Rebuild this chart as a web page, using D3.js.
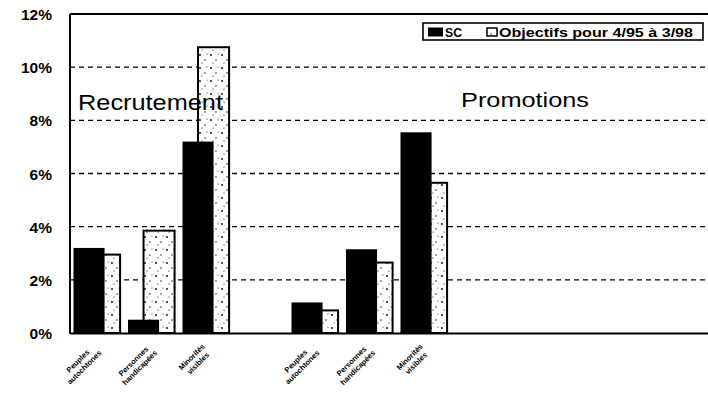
<!DOCTYPE html>
<html>
<head>
<meta charset="utf-8">
<script src="https://cdn.jsdelivr.net/npm/d3@7"></script>
<style>
  html, body { margin: 0; padding: 0; background: #fff; }
  #wrap { position: relative; width: 708px; height: 403px; }
  svg { display: block; font-family: "Liberation Sans", Arial, sans-serif; }
  .xlab { position: absolute; left: 0; top: 0; font: bold 7.5px "Liberation Sans", Arial, sans-serif;
          line-height: 9px; text-align: center; white-space: nowrap; transform-origin: 100% 0; }
</style>
</head>
<body>
<div id="wrap"><svg id="chart" width="708" height="403"></svg></div>
<script>
// Category slots along the x axis (blank slots keep the spacing between groups)
const slots = ["r0", "r1", "r2", "gap", "p0", "p1", "p2", "e0", "e1", "e2", "e3", "e4"];
const categories = ["Peuples autochtones", "Personnes handicapées", "Minorités visibles"];
const groupTitles = ["Recrutement", "Promotions"];
const recrutementSC = [3.2, 0.5, 7.2];
const recrutementObjectifs = [2.95, 3.85, 10.75];
const promotionsSC = [1.15, 3.15, 7.55];
const promotionsObjectifs = [0.85, 2.65, 5.65];
const yTicks = [0, 2, 4, 6, 8, 10, 12];
const legendLabels = ["SC", "Objectifs pour 4/95 à 3/98"];

const svg = d3.select("#chart");
const W = 708, H = 403;
const plotLeft = 70, plotTop = 14, plotBottom = 333, plotRight = 708;

const x = d3.scaleBand().domain(slots).range([plotLeft, plotLeft + 54.5 * slots.length]).padding(0);
const y = d3.scaleLinear().domain([0, 12]).range([plotBottom, plotTop]);
const bw = x.bandwidth();
const barW = bw * 0.57;

// Stippled fill used for the target bars
const defs = svg.append("defs");
const pat = defs.append("pattern").attr("id", "stipple")
  .attr("patternUnits", "userSpaceOnUse").attr("width", 11).attr("height", 13);
pat.append("rect").attr("width", 11).attr("height", 13).attr("fill", "#fff");
[[2, 3, 0.9], [7, 8, 0.7], [4, 11, 0.6], [9, 2, 0.5]].forEach(([cx, cy, r]) =>
  pat.append("circle").attr("cx", cx).attr("cy", cy).attr("r", r).attr("fill", "#000"));
defs.append("clipPath").attr("id", "plotclip").append("rect")
  .attr("x", plotLeft).attr("y", 0).attr("width", plotRight - plotLeft).attr("height", H);

// Dashed gridlines
svg.append("g").selectAll("line").data(yTicks.filter(t => t > 0 && t < 12)).join("line")
  .attr("x1", plotLeft).attr("x2", plotRight)
  .attr("y1", d => y(d)).attr("y2", d => y(d))
  .attr("stroke", "#000").attr("stroke-width", 1.3).attr("stroke-dasharray", "5,4");

// Bars
const rows = [];
categories.forEach((c, i) => {
  rows.push({ slot: slots[i], sc: recrutementSC[i], obj: recrutementObjectifs[i] });
  rows.push({ slot: slots[i + 4], sc: promotionsSC[i], obj: promotionsObjectifs[i] });
});
const bars = svg.append("g").attr("clip-path", "url(#plotclip)");
bars.selectAll("rect.obj").data(rows).join("rect").attr("class", "obj")
  .attr("x", d => x(d.slot) + 3.5 + barW / 2)
  .attr("y", d => y(d.obj))
  .attr("width", barW)
  .attr("height", d => y(0) - y(d.obj))
  .attr("fill", "url(#stipple)").attr("stroke", "#000").attr("stroke-width", 2);
bars.selectAll("rect.sc").data(rows).join("rect").attr("class", "sc")
  .attr("x", d => x(d.slot) + 3.5)
  .attr("y", d => y(d.sc))
  .attr("width", barW)
  .attr("height", d => y(0) - y(d.sc))
  .attr("fill", "#000");

// Group titles, drawn over the bars
svg.append("text").attr("x", 78).attr("y", 110).attr("font-size", 22)
  .attr("textLength", 145).attr("lengthAdjust", "spacingAndGlyphs").text(groupTitles[0]);
svg.append("text").attr("x", 461).attr("y", 107).attr("font-size", 21)
  .attr("textLength", 128).attr("lengthAdjust", "spacingAndGlyphs").text(groupTitles[1]);

// Frame: left axis, bottom axis, top border
svg.append("line").attr("x1", plotLeft).attr("x2", plotLeft).attr("y1", plotTop).attr("y2", plotBottom + 1)
  .attr("stroke", "#000").attr("stroke-width", 2);
svg.append("line").attr("x1", plotLeft).attr("x2", plotRight).attr("y1", plotBottom + 0.5).attr("y2", plotBottom + 0.5)
  .attr("stroke", "#000").attr("stroke-width", 2.2);
svg.append("line").attr("x1", plotLeft).attr("x2", plotRight).attr("y1", plotTop).attr("y2", plotTop)
  .attr("stroke", "#000").attr("stroke-width", 2);

// Y axis labels
const yAxis = d3.axisLeft(y).tickValues(yTicks).tickFormat(d => d + "%").tickSize(0).tickPadding(18);
const yg = svg.append("g").attr("transform", `translate(${plotLeft},0)`).call(yAxis);
yg.select(".domain").remove();
yg.selectAll("text").attr("font-size", 15.5).attr("font-weight", "bold")
  .attr("font-family", "Liberation Sans, Arial, sans-serif").attr("fill", "#000")
  .attr("dy", "0.36em");

// Rotated two-line category labels: the top-right corner of each block sits under its slot
const labelRows = [];
categories.forEach((c, i) => {
  labelRows.push({ slot: slots[i], text: c });
  labelRows.push({ slot: slots[i + 4], text: c });
});
d3.select("#wrap").selectAll("div.xlab").data(labelRows).join("div").attr("class", "xlab")
  .html(d => d.text.split(" ").join("<br>"))
  .each(function (d) {
    const w = this.offsetWidth;
    const ax = x(d.slot) + bw / 2 - 6, ay = plotBottom + 9;
    this.style.left = (ax - w) + "px";
    this.style.top = ay + "px";
    this.style.transform = "rotate(-45deg)";
  });

// Legend
const leg = svg.append("g");
leg.append("rect").attr("x", 423).attr("y", 23).attr("width", 280).attr("height", 17)
  .attr("fill", "#fff").attr("stroke", "#000").attr("stroke-width", 1.6);
leg.append("rect").attr("x", 428).attr("y", 27.5).attr("width", 15).attr("height", 9).attr("fill", "#000");
leg.append("text").attr("x", 445).attr("y", 36.5).attr("font-size", 12.5).attr("font-weight", "bold")
  .attr("textLength", 17).attr("lengthAdjust", "spacingAndGlyphs").text(legendLabels[0]);
leg.append("rect").attr("x", 487).attr("y", 28).attr("width", 10).attr("height", 8)
  .attr("fill", "url(#stipple)").attr("stroke", "#000").attr("stroke-width", 1.5);
leg.append("text").attr("x", 499).attr("y", 36.5).attr("font-size", 12.5).attr("font-weight", "bold")
  .attr("textLength", 194).attr("lengthAdjust", "spacingAndGlyphs").text(legendLabels[1]);
</script>
</body>
</html>
